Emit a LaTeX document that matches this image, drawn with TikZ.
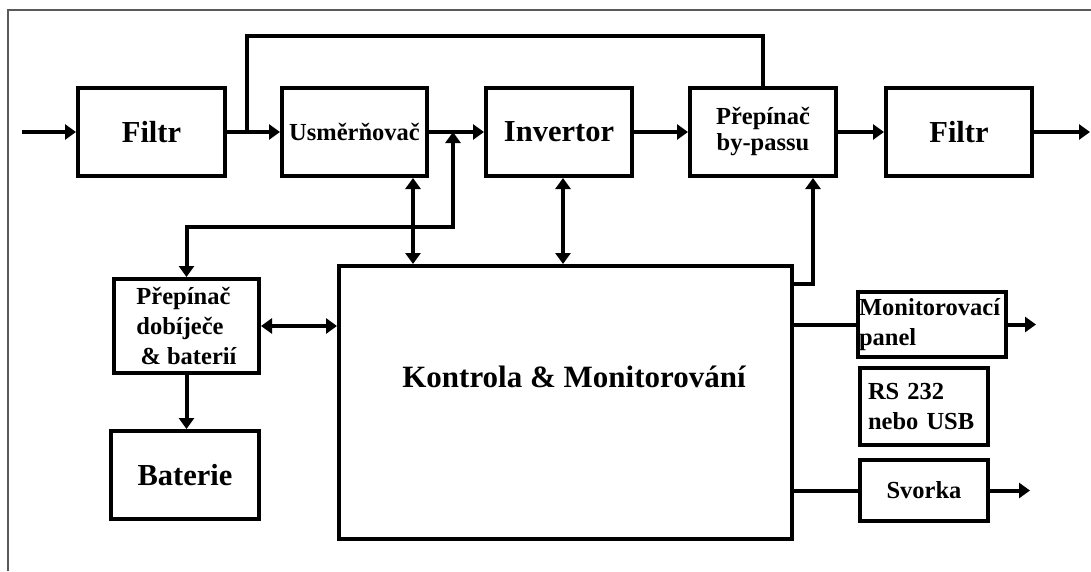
\documentclass[tikz,border=0pt]{standalone}
\usepackage{fontspec}
\setmainfont{Liberation Serif}
\usetikzlibrary{arrows.meta}
\tikzset{
 box/.style={draw, line width=4pt, rectangle, inner sep=0pt},
 big/.style={font=\bfseries\fontsize{30.5}{36}\selectfont},
 small/.style={font=\bfseries\fontsize{24.5}{30}\selectfont},
 conn/.style={line width=4pt},
 arr/.style={conn, -{Triangle[length=11pt,width=15pt]}},
 darr/.style={conn, {Triangle[length=11pt,width=15pt]}-{Triangle[length=11pt,width=15pt]}},
}
\begin{document}
\begin{tikzpicture}[x=1pt,y=-1pt]
\useasboundingbox (0,0) rectangle (1091,571);
\draw[line width=2pt, black!65] (8,571) -- (8,10) -- (1091,10);
% top row
\node[box,big,minimum width=147pt,minimum height=88pt] (f1) at (151.5,132) {Filtr};
\node[box,small,minimum width=145pt,minimum height=88pt] (us) at (354.5,132) {Usměrňovač};
\node[box,big,minimum width=146pt,minimum height=88pt] (inv) at (559,132) {Invertor};
\node[box,small,minimum width=146pt,minimum height=88pt,align=center,font=\bfseries\fontsize{24.5}{26}\selectfont] (bp) at (763,132) {Přepínač\\by-passu};
\node[box,big,minimum width=146pt,minimum height=88pt] (f2) at (959,132) {Filtr};
% left column
\node[box,small,minimum width=145pt,minimum height=94pt,align=left] (pd) at (186.5,326) {Přepínač\\dobíječe\\\,\& baterií};
\node[box,big,minimum width=148pt,minimum height=88pt] (bat) at (185,475) {Baterie};
% control
\node[box,minimum width=453pt,minimum height=273pt] (km) at (565.5,402.5) {};
\node[big,font=\bfseries\fontsize{31}{36}\selectfont] (kml) at (574,377) {Kontrola \& Monitorování};
% right column
\node[box,small,minimum height=65pt,text width=146pt,inner xsep=1pt,align=left] (mon) at (932,324.5) {Monitorovací\\panel};
\node[box,small,minimum height=77pt,text width=112pt,inner xsep=8pt,align=left] (rs) at (924,406.5) {RS 232\\nebo USB};
\node[box,small,minimum width=128pt,minimum height=61pt] (sv) at (924,490.5) {Svorka};
% coordinates
\coordinate (in) at (22,132);
\coordinate (br) at (247,132);
\coordinate (tp) at (247,36);
\coordinate (j) at (453,132);
\coordinate (jb) at (453,227);
\coordinate (ux) at (413,0);
\coordinate (ix) at (563,0);
\coordinate (bx) at (813,284);
\coordinate (out) at (1090,132);
\coordinate (mout) at (1036,324.5);
\coordinate (sout) at (1030,490.5);
% connectors
\draw[arr] (in) -- (f1);
\draw[arr] (f1) -- (us);
\draw[conn] (br) -- (tp) -| (bp.north);
\draw[arr] (us) -- (inv);
\draw[arr] (inv) -- (bp);
\draw[arr] (bp) -- (f2);
\draw[arr] (f2) -- (out);
\draw[darr] (j) -- (jb) -| (pd.north);
\draw[darr] (us.south -| ux) -- (km.north -| ux);
\draw[darr] (inv.south -| ix) -- (km.north -| ix);
\draw[arr] (km.east |- bx) -- (bx) -- (bp.south -| bx);
\draw[conn] (km.east |- mon.west) -- (mon.west);
\draw[arr] (mon.east) -- (mout);
\draw[conn] (km.east |- sv.west) -- (sv.west);
\draw[arr] (sv.east) -- (sout);
\draw[darr] (pd.east) -- (km.west |- pd.east);
\draw[arr] (pd.south) -- (bat.north -| pd.south);
\end{tikzpicture}
\end{document}
